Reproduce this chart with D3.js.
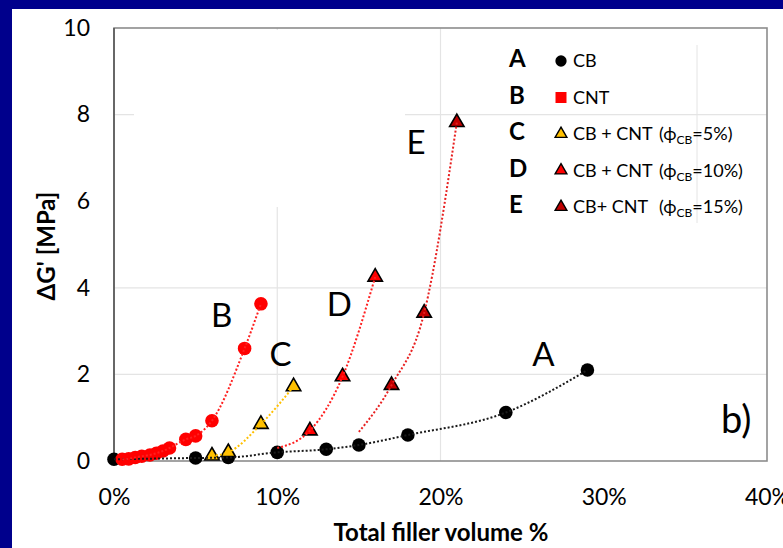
<!DOCTYPE html>
<html>
<head>
<meta charset="utf-8">
<script src="https://cdn.jsdelivr.net/npm/d3@7"></script>
<style>
body { margin: 0; background: #00008c; }
svg { display: block; }
text { font-family: Lato, "DejaVu Sans", sans-serif; fill: #000; }
</style>
</head>
<body>
<script>
// axis ticks
var xTicks = [0, 10, 20, 30, 40];
var yTicks = [0, 2, 4, 6, 8, 10];
var gridX = [10, 20];
var gridY = [2, 4, 8];

// A: CB
var cbX = [0, 5, 7, 10, 13, 15, 18, 24, 29];
var cbY = [0.04, 0.07, 0.08, 0.2, 0.27, 0.37, 0.6, 1.12, 2.1];
// B: CNT
var cntX = [0.5, 0.9, 1.3, 1.7, 2.2, 2.6, 3.0, 3.4, 4.4, 5.0, 6.0, 8.0, 9.0];
var cntY = [0.04, 0.05, 0.08, 0.11, 0.14, 0.18, 0.23, 0.3, 0.5, 0.58, 0.93, 2.6, 3.63];
// C: CB + CNT (phi 5%)
var cb5X = [6, 7, 9, 11];
var cb5Y = [0.12, 0.2, 0.85, 1.72];
// D: CB + CNT (phi 10%)
var cb10X = [12, 14, 16];
var cb10Y = [0.7, 1.95, 4.25];
var cb10LineStart = [10, 0.3];
// E: CB + CNT (phi 15%)
var cb15X = [17, 19, 21];
var cb15Y = [1.75, 3.42, 7.82];
var cb15LineStart = [15, 0.67];

var legendLetters = ["A", "B", "C", "D", "E"];
var legendNames = ["CB", "CNT", "CB + CNT", "CB + CNT", "CB+ CNT"];
var legendPhi = [null, null, "5%", "10%", "15%"];

// curve labels: letter, x, y (data units)
var curveLabelText = ["B", "C", "D", "E", "A"];
var curveLabelX = [6.6, 10.2, 13.8, 18.5, 26.3];
var curveLabelY = [3.1, 2.2, 3.35, 7.1, 2.2];

function zip(xs, ys) {
    return xs.map(function (v, i) { return [v, ys[i]]; });
}

var series = [
    {key: "A", pts: zip(cbX, cbY), start: null, shape: "circle", fill: "#000000", stroke: "none", line: "#1a1a1a"},
    {key: "B", pts: zip(cntX, cntY), start: null, shape: "circle", fill: "#ff0000", stroke: "none", line: "#ff2020"},
    {key: "C", pts: zip(cb5X, cb5Y), start: null, shape: "triangle", fill: "#ffc000", stroke: "#000", line: "#ffc000"},
    {key: "D", pts: zip(cb10X, cb10Y), start: cb10LineStart, shape: "triangle", fill: "#ff0000", stroke: "#000", line: "#ff2020"},
    {key: "E", pts: zip(cb15X, cb15Y), start: cb15LineStart, shape: "triangle", fill: "#c00000", stroke: "#000", line: "#e82020"}
];

var W = 783, H = 548;
var svg = d3.select("body").append("svg").attr("width", W).attr("height", H);

// white sheet on blue slide
svg.append("rect").attr("x", 12).attr("y", 9).attr("width", W - 12).attr("height", H - 9).attr("fill", "#fff");

var x = d3.scaleLinear().domain([0, 40]).range([114, 767]);
var y = d3.scaleLinear().domain([0, 10]).range([461, 28]);

// gridlines
svg.append("g").selectAll("line.gy").data(gridY).enter().append("line")
    .attr("x1", x(0)).attr("x2", x(40))
    .attr("y1", function (d) { return y(d); }).attr("y2", function (d) { return y(d); })
    .attr("stroke", "#e4e4e4").attr("stroke-width", 1.2);
svg.append("g").selectAll("line.gx").data(gridX).enter().append("line")
    .attr("x1", function (d) { return x(d); }).attr("x2", function (d) { return x(d); })
    .attr("y1", y(0)).attr("y2", y(10))
    .attr("stroke", "#e4e4e4").attr("stroke-width", 1.2);

// pasted label box hides part of the grid
svg.append("rect").attr("x", 134).attr("y", 30).attr("width", 271).attr("height", 177).attr("fill", "#fff");
svg.append("line").attr("x1", 697).attr("x2", 697).attr("y1", 45).attr("y2", 223)
    .attr("stroke", "#e4e4e4").attr("stroke-width", 1);

// frame
svg.append("rect").attr("x", x(0)).attr("y", y(10))
    .attr("width", x(40) - x(0)).attr("height", y(0) - y(10))
    .attr("fill", "none").attr("stroke", "#8c8c8c").attr("stroke-width", 1.6);
svg.append("line").attr("x1", x(0)).attr("x2", x(0)).attr("y1", y(10)).attr("y2", y(0))
    .attr("stroke", "#595959").attr("stroke-width", 1.6);

// axes
var yAxis = svg.append("g").attr("transform", "translate(" + x(0) + ",0)")
    .call(d3.axisLeft(y).tickValues(yTicks).tickSize(0).tickPadding(24));
yAxis.select(".domain").remove();
yAxis.selectAll("text").attr("font-size", 23).attr("font-family", "Lato, sans-serif").attr("fill", "#000");

var xAxis = svg.append("g").attr("transform", "translate(0," + y(0) + ")")
    .call(d3.axisBottom(x).tickValues(xTicks).tickSize(0).tickPadding(28)
        .tickFormat(function (d) { return d + "%"; }));
xAxis.select(".domain").remove();
xAxis.selectAll("text").attr("font-size", 23).attr("font-family", "Lato, sans-serif").attr("fill", "#000");

// axis titles
svg.append("text").attr("x", 441).attr("y", 541).attr("text-anchor", "middle")
    .attr("font-size", 24).attr("font-weight", "bold").text("Total filler volume %");
svg.append("text").attr("transform", "translate(55,246) rotate(-90)").attr("text-anchor", "middle")
    .attr("font-size", 24).attr("font-weight", "bold").text("\u0394G' [MPa]");

function symbolPath(shape, size) {
    var t = shape === "circle" ? d3.symbolCircle : (shape === "square" ? d3.symbolSquare : d3.symbolTriangle);
    return d3.symbol().type(t).size(size)();
}

// markers
series.forEach(function (s) {
    svg.append("g").selectAll("path").data(s.pts).enter().append("path")
        .attr("transform", function (d) { return "translate(" + x(d[0]) + "," + y(d[1]) + ")"; })
        .attr("d", s.shape === "circle" ? symbolPath("circle", 145) : symbolPath("triangle", 90))
        .attr("fill", s.fill)
        .attr("stroke", s.stroke)
        .attr("stroke-width", 1.6);
});

// dotted trend lines on top
var line = d3.line()
    .x(function (d) { return x(d[0]); })
    .y(function (d) { return y(d[1]); })
    .curve(d3.curveMonotoneX);
series.forEach(function (s) {
    var pts = s.start ? [s.start].concat(s.pts) : s.pts;
    svg.append("path").datum(pts)
        .attr("d", line)
        .attr("fill", "none")
        .attr("stroke", s.line)
        .attr("stroke-width", 2)
        .attr("stroke-dasharray", "2,2");
});

// curve letters
svg.append("g").selectAll("text").data(curveLabelText).enter().append("text")
    .attr("x", function (d, i) { return x(curveLabelX[i]); })
    .attr("y", function (d, i) { return y(curveLabelY[i]); })
    .attr("text-anchor", "middle")
    .attr("font-size", 33)
    .text(function (d) { return d; });

svg.append("text").attr("x", 721).attr("y", 433).attr("font-size", 38).text("b)");

// legend
var legend = svg.append("g").selectAll("g").data(series).enter().append("g")
    .attr("transform", function (d, i) { return "translate(0," + (67 + i * 36.5) + ")"; });

legend.append("text").attr("x", 509).attr("y", 0)
    .attr("font-size", 24).attr("font-weight", "bold")
    .text(function (d, i) { return legendLetters[i]; });

legend.append("path")
    .attr("transform", "translate(561,-6)")
    .attr("d", function (d, i) {
        if (i === 0) return symbolPath("circle", 100);
        if (i === 1) return symbolPath("square", 121);
        return symbolPath("triangle", 60);
    })
    .attr("fill", function (d) { return d.fill; })
    .attr("stroke", function (d) { return d.stroke; })
    .attr("stroke-width", 1.4);

legend.append("text").attr("x", 573).attr("y", 0)
    .attr("font-size", 18)
    .text(function (d, i) { return legendNames[i]; });

var phiText = legend.filter(function (d, i) { return legendPhi[i] !== null; })
    .append("text").attr("x", 659).attr("y", 0).attr("font-size", 18);
phiText.append("tspan").text("(\u03d5");
phiText.append("tspan").attr("font-size", 12).attr("dy", 4).text("CB");
phiText.append("tspan").attr("dy", -4)
    .text(function (d) { return "=" + legendPhi[series.indexOf(d)] + ")"; });
</script>
</body>
</html>
